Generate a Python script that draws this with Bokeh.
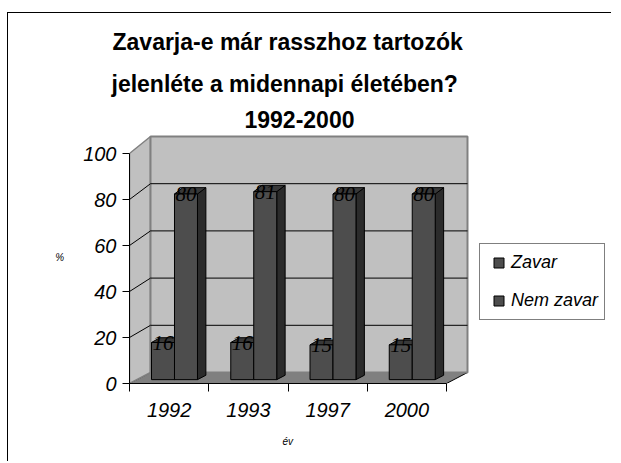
import numpy as np
from bokeh.plotting import figure
from bokeh.models import FixedTicker, Range1d, Legend, LegendItem, Title
from bokeh.embed import file_html
from bokeh.resources import INLINE

# ---------------- data ----------------
years = ["1992", "1993", "1997", "2000"]
zavar = [16, 16, 15, 15]
nem_zavar = [80, 81, 80, 80]
series_names = ["Zavar", "Nem zavar"]
y_ticks = [0, 20, 40, 60, 80, 100]
title_lines = ["Zavarja-e már rasszhoz tartozók",
               "jelenléte a midennapi életében?",
               "1992-2000"]
x_label = "év"
y_label = "%"

# ---------------- layout / style ----------------
FONT = "Liberation Sans"
W, H = 604, 449
B_LEFT, B_TOP, B_BOTTOM, B_RIGHT = 121, 117, 79, 0
FRAME_W = W - B_LEFT - B_RIGHT
FRAME_H = H - B_TOP - B_BOTTOM
PX_X = 79.25          # pixels per category
PX_Y = 2.30           # pixels per percent (front plane)
n = len(years)
y_max = y_ticks[-1]

DEPTH_X = 21.0 / PX_X


def proj(x, v, d):
    """oblique 3D projection: x (category units), v (percent), d depth 0..1"""
    x = np.asarray(x, float)
    v = np.asarray(v, float)
    return x + d * DEPTH_X, v + d * (11.0 + 0.06 * v) / PX_Y


p = figure(width=W, height=H, output_backend="svg", toolbar_location=None,
           x_range=Range1d(0, FRAME_W / PX_X), y_range=Range1d(0, FRAME_H / PX_Y),
           min_border_left=B_LEFT, min_border_top=B_TOP,
           min_border_bottom=B_BOTTOM, min_border_right=B_RIGHT)
p.styles = {"border-top": "1px solid black", "border-left": "1px solid black",
            "margin-top": "12px", "margin-left": "7px"}
p.outline_line_color = None
p.background_fill_color = "white"
p.border_fill_color = "white"
p.xgrid.visible = False
p.ygrid.visible = False

WALL = "#c0c0c0"
FLOOR = "#808080"
EDGE = "#808080"


def poly(corners):
    xs, ys = [], []
    for (x, v, d) in corners:
        a, b = proj(x, v, d)
        xs.append(float(a))
        ys.append(float(b))
    return xs, ys


# floor
fx, fy = poly([(0, 0, 0), (n, 0, 0), (n, 0, 1), (0, 0, 1)])
p.patch(fx, fy, fill_color=FLOOR, line_color="black", line_width=1)
# left wall
lx, ly = poly([(0, 0, 0), (0, 0, 1), (0, y_max, 1), (0, y_max, 0)])
p.patch(lx, ly, fill_color=WALL, line_color=EDGE, line_width=1.5)
# back wall
bx, by = poly([(0, 0, 1), (n, 0, 1), (n, y_max, 1), (0, y_max, 1)])
p.patch(bx, by, fill_color=WALL, line_color=EDGE, line_width=2)

# gridlines on left + back wall
gxs, gys = [], []
for t in y_ticks[1:-1]:
    xs, ys = poly([(0, t, 0), (0, t, 1), (n, t, 1)])
    gxs.append(xs)
    gys.append(ys)
p.multi_line(gxs, gys, line_color="black", line_width=1)

# bars
BAR_W = 0.29
SHIFT = -0.025
D1, D2 = 0.35, 0.75
FRONT, SIDE, TOP = "#4d4d4d", "#2b2b2b", "#383838"
centers = np.arange(n) + 0.5 + SHIFT
series = [(zavar, centers - BAR_W, centers), (nem_zavar, centers, centers + BAR_W)]

label_x, label_y, label_t = [], [], []
for vals, xl, xr in series:
    v = np.asarray(vals, float)
    side_xs, side_ys, top_xs, top_ys = [], [], [], []
    for l, r, vv in zip(xl, xr, v):
        sx, sy = poly([(r, 0, D1), (r, 0, D2), (r, vv, D2), (r, vv, D1)])
        side_xs.append(sx)
        side_ys.append(sy)
        tx, ty = poly([(l, vv, D1), (r, vv, D1), (r, vv, D2), (l, vv, D2)])
        top_xs.append(tx)
        top_ys.append(ty)
    p.patches(side_xs, side_ys, fill_color=SIDE, line_color="black", line_width=1)
    p.patches(top_xs, top_ys, fill_color=TOP, line_color="black", line_width=1)
    p.quad(left=proj(xl, 0, D1)[0], right=proj(xr, 0, D1)[0],
           bottom=proj(xl, 0, D1)[1], top=proj(xl, v, D1)[1],
           fill_color=FRONT, line_color="black", line_width=1)
    lx_, ly_ = proj((xl + xr) / 2, v, D1)
    label_x += list(map(float, lx_))
    label_y += list(map(float, ly_))
    label_t += [str(int(a)) for a in vals]

p.text(x=label_x, y=label_y, text=label_t, text_align="center",
       text_baseline="alphabetic", text_font=FONT, text_font_size="21px",
       text_font_style="italic", text_color="black")

# legend (proxy markers placed outside the visible range)
items = []
for name in series_names:
    r = p.scatter(x=[-100], y=[-100], marker="square", size=10, fill_color=FRONT,
                  line_color="black")
    items.append(LegendItem(label=name, renderers=[r]))
legend = Legend(items=items, location=(350, 63), glyph_width=25, glyph_height=25,
                label_standoff=0, padding=6, spacing=13, margin=0,
                label_text_font=FONT, label_text_font_size="18px",
                label_text_font_style="italic", label_text_color="black",
                border_line_color="black", border_line_width=1,
                background_fill_color="white", background_fill_alpha=1)
p.add_layout(legend)

# title: three lines (p.title is outermost; added titles stack outward from frame)
TITLE_SIZE = 23
title_offsets = [-17, -18, 115]
title_standoffs = [11, 17, 6]
p.title.text = title_lines[0]
p.title.align = "left"
p.title.offset = title_offsets[0]
p.title.text_font = FONT
p.title.text_font_size = f"{TITLE_SIZE}px"
p.title.text_font_style = "bold"
p.title.text_color = "black"
p.title.standoff = title_standoffs[0]
for i in (2, 1):
    p.add_layout(Title(text=title_lines[i], align="left", offset=title_offsets[i],
                       text_font=FONT, text_font_size=f"{TITLE_SIZE}px",
                       text_font_style="bold", text_color="black",
                       standoff=title_standoffs[i]), "above")

# x-axis name, centred under the category axis
p.add_layout(Title(text=x_label, align="left", offset=153, text_font=FONT,
                   text_font_size="10px", text_font_style="italic",
                   text_color="black", standoff=29), "below")

# axes
ya = p.yaxis[0]
ya.ticker = FixedTicker(ticks=y_ticks, minor_ticks=[])
ya.bounds = (0, y_max)
ya.major_tick_in = 0
ya.major_tick_out = 7
ya.major_tick_line_color = "black"
ya.minor_tick_line_color = None
ya.axis_line_color = "black"
ya.major_label_standoff = 6
ya.major_label_text_font = FONT
ya.major_label_text_font_size = "20px"
ya.major_label_text_font_style = "italic"
ya.major_label_text_color = "black"
ya.axis_label = y_label
ya.axis_label_orientation = "horizontal"
ya.axis_label_standoff = 16
ya.axis_label_text_baseline = "top"
ya.axis_label_text_font = FONT
ya.axis_label_text_font_size = "10px"
ya.axis_label_text_font_style = "italic"
ya.axis_label_text_color = "black"

xa = p.xaxis[0]
xa.ticker = FixedTicker(ticks=[i + 0.5 for i in range(n)], minor_ticks=list(range(n + 1)))
xa.major_label_overrides = {i + 0.5: y for i, y in enumerate(years)}
xa.bounds = (0, n)
xa.major_tick_in = 0
xa.major_tick_out = 0
xa.major_tick_line_color = None
xa.minor_tick_in = 0
xa.minor_tick_out = 8
xa.minor_tick_line_color = "black"
xa.axis_line_color = "black"
xa.major_label_standoff = 11
xa.major_label_text_font = FONT
xa.major_label_text_font_size = "20px"
xa.major_label_text_font_style = "italic"
xa.major_label_text_color = "black"

open("out.html", "w").write(file_html(p, INLINE))
